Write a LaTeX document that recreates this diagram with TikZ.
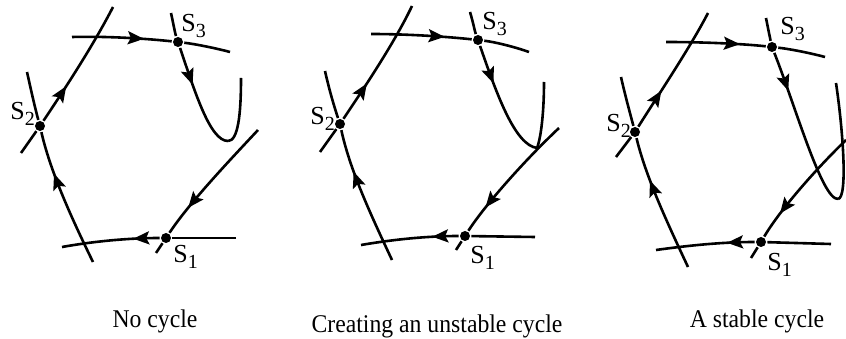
\documentclass[tikz,border=0pt]{standalone}
\usepackage{fontspec}
\setmainfont{Liberation Serif}
\usetikzlibrary{arrows.meta,decorations.markings}
\newcommand\slab[1]{S\raisebox{-6pt}{\fontsize{20}{20}\selectfont #1}}
\newcommand\captxt[1]{\scalebox{0.93}[1]{#1}}
\tikzset{
  dot/.style={circle,fill,inner sep=0pt,minimum size=10pt},
  arr/.style={postaction={decorate},decoration={markings,
     mark=at position #1 with {\arrow{Stealth[length=16pt,width=13pt,inset=3pt]}}}},
  lab/.style={anchor=base west,inner sep=0pt,font=\fontsize{26}{26}\selectfont},
  captext/.style={anchor=base,inner sep=0pt,font=\fontsize{25.5}{25.5}\selectfont},
}
\begin{document}
\begin{tikzpicture}[x=1pt,y=-1pt,line width=2.6pt,line cap=butt]
\useasboundingbox (0,0) rectangle (846,339);
% ---------------- panel 1 ----------------
\node[dot] (a3) at (178,42) {};
\node[dot] (a2) at (40,126) {};
\node[dot] (a1) at (166,238) {};
\coordinate (a3t1) at (72,37);
\coordinate (a3t2) at (230,52);
\coordinate (a3v1) at (171,13);
\coordinate (a3b) at (228,141);
\coordinate (a3r) at (241,78);
\coordinate (a2d1) at (21,153);
\coordinate (a2d2) at (113,7);
\coordinate (a2v1) at (27,72);
\coordinate (a2v2) at (93,262);
\coordinate (a1h1) at (236,238);
\coordinate (a1h2) at (62,247);
\coordinate (a1d1) at (258,130);
\coordinate (a1d2) at (156,253);
\draw[arr=0.72] (a3t1) .. controls (110,36) and (150,39) .. (a3);
\draw (a3) .. controls (195,44) and (215,48) .. (a3t2);
\draw (a3v1) .. controls (173,22) and (175,33) .. (a3);
\draw[arr=0.36] (a3) .. controls (195,92) and (210,141) .. (a3b);
\draw (a3b) .. controls (238,141) and (241,115) .. (a3r);
\draw (a2d1) -- (a2);
\draw[arr=0.31] (a2) .. controls (60,96) and (92,48) .. (a2d2);
\draw (a2v1) .. controls (31,90) and (35,108) .. (a2);
\draw[arr=0.69] (a2v2) .. controls (70,215) and (50,170) .. (a2);
\draw (a1h1) -- (a1);
\draw[arr=0.27] (a1) .. controls (125,238) and (90,242) .. (a1h2);
\draw[arr=0.77] (a1d1) .. controls (230,160) and (190,202) .. (a1);
\draw (a1) -- (a1d2);
\node[lab] (la3) at (180,32) {\slab{3}};
\node[lab] (la2) at (9,120) {\slab{2}};
\node[lab] (la1) at (172,262) {\slab{1}};
% ---------------- panel 2 ----------------
\node[dot] (b3) at (478,40) {};
\node[dot] (b2) at (340,124) {};
\node[dot] (b1) at (465,236) {};
\coordinate (b3t1) at (371,34);
\coordinate (b3t2) at (529,52);
\coordinate (b3v1) at (470,12);
\coordinate (bc) at (537,148);
\coordinate (b3r) at (544,82);
\coordinate (b2d1) at (320,152);
\coordinate (b2d2) at (412,6);
\coordinate (b2v1) at (325,71);
\coordinate (b2v2) at (392,260);
\coordinate (b1h1) at (535,237);
\coordinate (b1h2) at (361,245);
\coordinate (b1d1) at (559,128);
\coordinate (b1d2) at (456,250);
\draw[arr=0.73] (b3t1) .. controls (410,34) and (450,37) .. (b3);
\draw (b3) .. controls (495,42) and (515,47) .. (b3t2);
\draw (b3v1) .. controls (473,22) and (475,32) .. (b3);
\draw[arr=0.33] (b3) .. controls (497,95) and (515,145) .. (bc);
\draw (bc) .. controls (541,138) and (544,112) .. (b3r);
\draw[arr=0.79] (b1d1) .. controls (525,160) and (485,205) .. (b1);
\draw (b1) -- (b1d2);
\draw (b2d1) -- (b2);
\draw[arr=0.32] (b2) .. controls (360,94) and (394,44) .. (b2d2);
\draw (b2v1) .. controls (329,89) and (334,106) .. (b2);
\draw[arr=0.69] (b2v2) .. controls (370,213) and (350,170) .. (b2);
\draw (b1h1) -- (b1);
\draw[arr=0.27] (b1) .. controls (425,236) and (390,240) .. (b1h2);
\node[lab] (lb3) at (481,30) {\slab{3}};
\node[lab] (lb2) at (309,125) {\slab{2}};
\node[lab] (lb1) at (469,263) {\slab{1}};
% ---------------- panel 3 ----------------
\node[dot] (c3) at (772,47) {};
\node[dot] (c2) at (635,132) {};
\node[dot] (c1) at (761,242) {};
\coordinate (c3t1) at (666,42);
\coordinate (c3t2) at (825,57);
\coordinate (c3v1) at (766,18);
\coordinate (cb) at (838,199);
\coordinate (c3r) at (836,83);
\coordinate (c2d1) at (616,157);
\coordinate (c2d2) at (708,13);
\coordinate (c2v1) at (621,77);
\coordinate (c2v2) at (688,267);
\coordinate (c1h1) at (831,244);
\coordinate (c1h2) at (656,250);
\coordinate (c1d1) at (846,140);
\coordinate (c1d2) at (751,258);
\draw[arr=0.74] (c3t1) .. controls (705,42) and (745,44) .. (c3);
\draw (c3) .. controls (790,49) and (810,53) .. (c3t2);
\draw (c3v1) .. controls (768,28) and (770,38) .. (c3);
\draw[arr=0.25] (c3) .. controls (795,105) and (822,200) .. (cb);
\draw (cb) .. controls (848,198) and (843,130) .. (c3r);
\draw[arr=0.78] (c1d1) .. controls (815,170) and (780,210) .. (c1);
\draw (c1) -- (c1d2);
\draw (c2d1) -- (c2);
\draw[arr=0.32] (c2) .. controls (655,100) and (690,48) .. (c2d2);
\draw (c2v1) .. controls (625,95) and (630,113) .. (c2);
\draw[arr=0.68] (c2v2) .. controls (666,220) and (646,177) .. (c2);
\draw (c1h1) -- (c1);
\draw[arr=0.28] (c1) .. controls (720,242) and (685,246) .. (c1h2);
\node[lab] (lc3) at (779,35) {\slab{3}};
\node[lab] (lc2) at (605,132) {\slab{2}};
\node[lab] (lc1) at (766,270) {\slab{1}};
% ---------------- captions ----------------
\node[captext] (cap1) at (155,327) {\captxt{No cycle}};
\node[captext] (cap2) at (437,332) {\captxt{Creating an unstable cycle}};
\node[captext] (cap3) at (757,327) {\captxt{A stable cycle}};
\end{tikzpicture}
\end{document}
